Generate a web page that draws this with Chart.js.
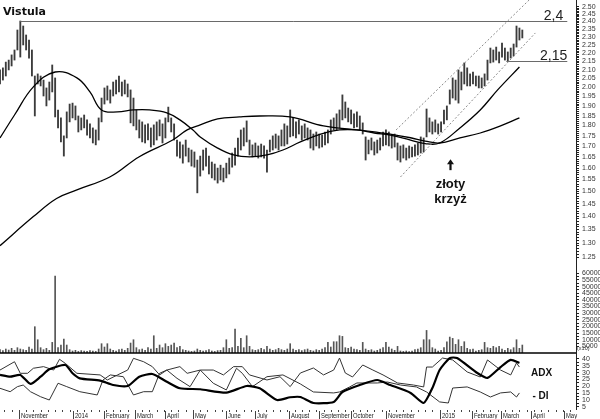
<!DOCTYPE html>
<html><head><meta charset="utf-8">
<script src="https://cdn.jsdelivr.net/npm/chart.js@4.4.0/dist/chart.umd.min.js"></script>
<style>html,body{margin:0;padding:0;background:#fff;}#wrap{width:600px;height:419px;}</style>
</head><body><div id="wrap"><canvas id="c" width="600" height="419"></canvas></div>
<script>
// ---- DATA (trading-day index: one bar every 2 sessions) ----
const priceHigh = [
2.099,2.111,2.145,2.157,2.188,2.218,2.344,2.403,2.370,2.312,
2.280,2.218,2.064,2.076,2.064,2.041,1.997,2.030,2.128,2.053,
1.879,1.838,1.749,1.869,1.910,1.915,1.900,1.848,1.838,1.853,
1.828,1.808,1.788,1.778,1.838,1.942,1.997,2.008,1.986,2.030,
2.041,2.064,2.030,2.041,2.019,1.986,1.942,1.879,1.828,1.818,
1.803,1.808,1.788,1.803,1.818,1.828,1.808,1.838,1.894,1.838,
1.808,1.729,1.720,1.706,1.729,1.691,1.682,1.673,1.636,1.654,
1.682,1.691,1.654,1.627,1.618,1.600,1.613,1.600,1.622,1.645,
1.668,1.691,1.739,1.778,1.788,1.823,1.729,1.706,1.715,1.701,
1.710,1.701,1.682,1.729,1.749,1.758,1.749,1.778,1.808,1.798,
1.879,1.838,1.818,1.828,1.798,1.808,1.788,1.778,1.758,1.768,
1.758,1.753,1.768,1.778,1.828,1.838,1.859,1.879,1.959,1.921,
1.889,1.879,1.859,1.869,1.848,1.813,1.744,1.729,1.739,1.720,
1.729,1.739,1.768,1.778,1.768,1.749,1.758,1.715,1.701,1.706,
1.691,1.701,1.696,1.706,1.715,1.744,1.739,1.884,1.838,1.818,
1.828,1.808,1.818,1.879,1.900,1.986,2.053,2.041,2.099,2.087,
2.140,2.111,2.076,2.087,2.064,2.064,2.053,2.076,2.157,2.230,
2.218,2.236,2.206,2.261,2.230,2.206,2.230,2.255,2.370,2.357,2.344];
const priceLow = [
2.019,2.041,2.064,2.099,2.122,2.157,2.218,2.175,2.249,2.218,
2.169,2.064,1.848,2.019,2.008,1.953,1.900,1.931,1.975,1.843,
1.788,1.720,1.654,1.739,1.818,1.838,1.828,1.768,1.778,1.788,
1.753,1.739,1.715,1.706,1.729,1.818,1.910,1.931,1.915,1.953,
1.964,1.975,1.953,1.964,1.948,1.813,1.798,1.778,1.739,1.720,
1.715,1.729,1.696,1.706,1.729,1.749,1.715,1.739,1.818,1.768,
1.729,1.654,1.645,1.622,1.654,1.627,1.609,1.604,1.494,1.565,
1.591,1.609,1.574,1.557,1.548,1.535,1.548,1.540,1.557,1.574,
1.604,1.613,1.654,1.682,1.701,1.720,1.659,1.650,1.654,1.645,
1.650,1.645,1.582,1.673,1.682,1.691,1.682,1.701,1.701,1.710,
1.744,1.749,1.739,1.758,1.729,1.739,1.729,1.691,1.682,1.701,
1.691,1.696,1.706,1.715,1.758,1.778,1.778,1.788,1.828,1.838,
1.818,1.808,1.788,1.793,1.778,1.758,1.636,1.664,1.682,1.659,
1.668,1.682,1.701,1.706,1.701,1.691,1.696,1.636,1.627,1.645,
1.636,1.645,1.650,1.654,1.659,1.668,1.673,1.744,1.768,1.758,
1.768,1.758,1.768,1.808,1.828,1.910,1.942,1.931,1.915,1.986,
2.019,2.008,2.008,2.019,2.008,1.997,1.997,2.008,2.041,2.140,
2.145,2.157,2.140,2.175,2.157,2.151,2.169,2.182,2.236,2.280,2.293];
const volume = [
2500,1800,3000,2200,3500,2000,4000,3000,2500,2000,
4500,3000,19800,10000,4000,2500,3500,2000,8000,58000,
4000,6000,10500,6000,2500,1500,2000,1200,1800,1500,
1300,1800,1500,1200,3000,7000,4500,7000,3000,2000,
1500,2500,3000,2000,3500,7500,10000,4000,2500,3000,
2000,4000,3000,13000,3500,6000,4000,7000,5000,6000,
7500,4000,5000,2500,2000,1500,1200,1500,3000,2000,
1500,1800,2500,1500,1200,1800,2000,4000,10000,3500,
4000,18000,5000,11000,4000,13000,5000,2500,2000,2500,
3500,2500,5000,3000,2000,2500,3500,2500,2000,3000,
7000,3000,2000,2500,1800,2500,3000,2000,1500,2500,
2000,3000,4000,8000,4500,8500,8500,13000,12500,4000,
3500,4500,3000,2500,2000,8000,3000,2000,2500,1500,
2000,3000,4000,8000,4500,3000,2000,5000,1500,1200,
1500,1000,1500,2500,3000,4000,10000,17000,10000,4000,
3000,1500,2000,4000,8500,12000,11000,6500,10000,5000,
8500,3500,2500,3000,1500,2000,2500,8000,4000,3500,
5000,4000,5000,3000,2000,3500,2500,4000,10000,3500,6000];
const maMidDays = [0,10,23,38,53,62,70,81,92,103,115,124,133,138,150,161,172,184,195,207,221,234,246,258,269,283,293,303,317,331,343,358];
const maMidVals = [1.739,1.853,2.003,2.087,2.053,1.975,1.879,1.869,1.879,1.879,1.864,1.828,1.778,1.744,1.691,1.659,1.650,1.659,1.682,1.720,1.758,1.778,1.778,1.763,1.753,1.729,1.712,1.715,1.788,1.879,1.986,2.116];
const maLongDays = [0,23,39,53,76,96,119,129,138,150,165,179,200,223,246,258,269,283,293,303,317,331,345,358];
const maLongVals = [1.291,1.399,1.471,1.506,1.562,1.651,1.729,1.778,1.803,1.833,1.843,1.848,1.843,1.798,1.778,1.768,1.758,1.740,1.724,1.715,1.739,1.763,1.798,1.838];
const adxDays = [0,7,14,21,28,34,45,50,55,69,78,88,96,105,115,124,138,156,170,179,191,200,207,216,230,236,248,260,269,283,292,298,303,310,315,329,336,345,352,358];
const adxVals = [28.3,27.0,28.3,21.7,27.0,32.4,35.6,29.5,25.8,24.1,20.9,20.2,27.0,29.0,23.3,18.5,17.8,15.3,20.2,18.5,9.9,11.9,12.1,7.7,8.5,15.8,20.9,24.6,20.9,15.1,7.7,18.7,31.9,40.7,40.7,29.7,26.1,34.1,39.3,37.1];
const plusDiDays = [0,10,14,19,23,30,37,41,45,53,69,74,81,88,92,99,105,110,115,124,129,138,147,154,161,167,172,184,193,200,207,216,223,230,234,238,243,250,257,264,274,285,292,294,298,305,312,322,331,336,345,352,356,358];
const plusDiVals = [31.9,38.0,29.5,29.5,33.2,34.4,31.9,39.8,36.8,29.5,28.3,24.6,28.3,31.9,40.5,38.0,34.4,28.3,31.9,34.4,29.5,31.9,31.9,28.3,34.4,34.4,28.3,24.6,27.0,19.7,29.7,33.4,28.3,31.9,40.7,29.7,26.8,35.6,31.9,28.3,22.4,20.9,19.5,34.1,34.1,40.7,39.3,30.5,26.8,39.3,31.9,28.3,37.1,34.1];
const minusDiDays = [0,7,12,16,21,28,34,40,46,55,67,71,76,85,92,99,105,110,115,122,131,138,147,156,163,167,174,184,195,207,216,230,234,241,246,260,267,276,287,294,303,309,312,322,331,338,345,352,356,358];
const minusDiVals = [18.5,16.0,19.7,20.9,16.0,12.3,9.9,22.2,19.7,16.0,13.6,24.6,28.3,27.0,13.6,16.0,16.0,29.5,31.9,25.8,19.7,31.9,22.2,17.3,33.2,29.5,19.7,27.0,28.3,21.7,15.8,15.1,15.8,19.5,22.4,22.4,23.1,20.9,19.5,15.8,8.5,7.7,18.7,19.5,15.8,12.1,15.1,15.8,12.1,15.1];
const monthDays = [13,50,72,93,114,133,156,176,199,220,242,266,303,325,345,366,389];
const monthLabels = ['November','2014','February','March','April','May','June','July','August','September','October','November','2015','February','March','April','May'];
const priceTicks = [1.25,1.30,1.35,1.40,1.45,1.50,1.55,1.60,1.65,1.70,1.75,1.80,1.85,1.90,1.95,2.00,2.05,2.10,2.15,2.20,2.25,2.30,2.35,2.40,2.45,2.50];
const volumeTicks = [5000,10000,15000,20000,25000,30000,35000,40000,45000,50000,55000,60000];
const adxTicks = [5,10,15,20,25,30,35,40];
const levels = [{value:2.4,from:14,to:391,label:'2,4'},{value:2.15,from:349,to:391,label:'2,15'}];
const channelUpper = [[273,1.778],[365,2.55]];
const channelLower = [[276,1.561],[369,2.325]];
const crossMark = {day:310, value:1.640, lines:['złoty','krzyż']};

// ---- helpers ----
const FONT_AX = {family:'"Liberation Sans", Arial, sans-serif', size:7};
function fixWidth(s){ s.width = 24; s.paddingTop = 0; s.paddingBottom = 0; }
function pts(days, vals){ return days.map((d,i)=>({x:d, y:vals[i]})); }
function axisTicks(list, minorSteps){
  return function(scale){
    const out = [];
    for (let i=0;i<list.length;i++){
      out.push({value:list[i]});
      if (minorSteps && i<list.length-1){
        const step=(list[i+1]-list[i])/minorSteps;
        for(let k=1;k<minorSteps;k++) out.push({value:list[i]+step*k, minor:true});
      }
    }
    scale.ticks = out.filter(t=>t.value>=scale.min && t.value<=scale.max);
  };
}
function yAxis(extra){
  return Object.assign({
    position:'right', stack:'panes', afterFit:fixWidth,
    grid:{drawOnChartArea:false, drawTicks:true, tickLength:3, color:'#222', tickColor:'#222'},
    border:{display:true, color:'#222', width:1},
    ticks:{font:FONT_AX, color:'#333', padding:3, autoSkip:false, maxRotation:0}
  }, extra);
}

const annotPlugin = {
  id:'annot',
  afterDatasetsDraw(chart){
    const {ctx, chartArea, scales:{x, yP, yV, yA}} = chart;
    ctx.save();
    // resistance levels
    ctx.strokeStyle='#6a6a6a'; ctx.lineWidth=1;
    ctx.font='14px "Liberation Sans", Arial, sans-serif'; ctx.fillStyle='#222'; ctx.textAlign='right';
    levels.forEach(l=>{
      const py = Math.round(yP.getPixelForValue(l.value))+0.5;
      ctx.beginPath(); ctx.moveTo(x.getPixelForValue(l.from),py); ctx.lineTo(x.getPixelForValue(l.to),py); ctx.stroke();
      ctx.fillText(l.label, x.getPixelForValue(l.to)-(l.label.length<4?4:0), py-2);
    });
    // trend channel
    ctx.setLineDash([2,2]); ctx.strokeStyle='#8a8a8a';
    [channelUpper, channelLower].forEach(c=>{
      ctx.beginPath();
      ctx.moveTo(x.getPixelForValue(c[0][0]), yP.getPixelForValue(c[0][1]));
      ctx.lineTo(x.getPixelForValue(c[1][0]), yP.getPixelForValue(c[1][1]));
      ctx.stroke();
    });
    ctx.setLineDash([]);
    // golden cross arrow + label
    const ax = Math.round(x.getPixelForValue(crossMark.day))+0.5, ay = yP.getPixelForValue(crossMark.value);
    ctx.fillStyle='#111'; ctx.strokeStyle='#111';
    ctx.beginPath(); ctx.moveTo(ax, ay); ctx.lineTo(ax-3.5, ay+5); ctx.lineTo(ax+3.5, ay+5); ctx.closePath(); ctx.fill();
    ctx.lineWidth=2.2; ctx.beginPath(); ctx.moveTo(ax, ay+4); ctx.lineTo(ax, ay+11); ctx.stroke();
    ctx.font='bold 13px "Liberation Sans", Arial, sans-serif'; ctx.textAlign='center';
    ctx.fillText(crossMark.lines[0], ax, ay+29);
    ctx.fillText(crossMark.lines[1], ax, ay+44);
    // volume baseline
    const vb = yV.getPixelForValue(0);
    ctx.strokeStyle='#000'; ctx.lineWidth=1.5;
    ctx.beginPath(); ctx.moveTo(chartArea.left, vb); ctx.lineTo(chartArea.right, vb); ctx.stroke();
    ctx.font='5.5px "Liberation Sans", Arial, sans-serif'; ctx.textAlign='left'; ctx.fillStyle='#333';
    ctx.fillText('(x10)', chartArea.right+1, vb-3);
    // indicator labels
    ctx.font='bold 10px "Liberation Sans", Arial, sans-serif'; ctx.fillStyle='#111'; ctx.textAlign='left'; ctx.textBaseline='middle';
    ctx.fillText('ADX', x.getPixelForValue(366), yA.getPixelForValue(29.4));
    ctx.fillText('- DI', x.getPixelForValue(367), yA.getPixelForValue(12.5));
    ctx.save(); ctx.beginPath(); ctx.rect(chartArea.left, yA.top+1, chartArea.width, yA.bottom-yA.top); ctx.clip();
    ctx.fillText('+DI', x.getPixelForValue(368), yA.top-2);
    ctx.restore();
    // title
    ctx.font='bold 11px "DejaVu Sans", Verdana, sans-serif'; ctx.textBaseline='alphabetic'; ctx.fillStyle='#111';
    ctx.fillText('Vistula', 3, 15);
    ctx.restore();
  },
  afterDraw(chart){
    const {ctx, chartArea, scales:{x}} = chart;
    const y0 = chartArea.bottom;
    ctx.save();
    ctx.strokeStyle='#444'; ctx.lineWidth=1;
    for (let d=3; d<397; d+=5){
      const px=Math.round(x.getPixelForValue(d))+0.5;
      ctx.beginPath(); ctx.moveTo(px,y0+1); ctx.lineTo(px,y0+3); ctx.stroke();
    }
    ctx.font='7.5px "Liberation Sans", Arial, sans-serif';
    ctx.fillStyle='#222'; ctx.textAlign='left'; ctx.textBaseline='alphabetic';
    monthDays.forEach((d,i)=>{
      const px=Math.round(x.getPixelForValue(d))+0.5;
      ctx.beginPath(); ctx.moveTo(px,y0+2); ctx.lineTo(px,y0+10); ctx.stroke();
      ctx.save(); ctx.translate(px+1.5, y0+9); ctx.scale(0.78,1);
      ctx.fillText(monthLabels[i], 0, 0);
      ctx.restore();
    });
    ctx.restore();
  }
};

new Chart(document.getElementById('c'), {
  data:{datasets:[
    {type:'bar', label:'Vistula', data:priceHigh.map((h,i)=>({x:i*2, y:[priceLow[i], h]})), yAxisID:'yP',
     backgroundColor:'#3c3c3c', barThickness:1.2, grouped:false, order:2},
    {type:'line', label:'MA short', data:pts(maMidDays, maMidVals), yAxisID:'yP', borderColor:'#000', borderWidth:1.3, pointRadius:0, tension:0.4, order:0},
    {type:'line', label:'MA long', data:pts(maLongDays, maLongVals), yAxisID:'yP', borderColor:'#000', borderWidth:1.3, pointRadius:0, tension:0.4, order:0},
    {type:'bar', label:'Volume', data:volume.map((v,i)=>({x:i*2, y:v})), yAxisID:'yV',
     backgroundColor:'#555', barThickness:1, grouped:false, order:2},
    {type:'line', label:'ADX', data:pts(adxDays, adxVals), yAxisID:'yA', borderColor:'#000', borderWidth:2.2, pointRadius:0, tension:0.2, order:0},
    {type:'line', label:'+DI', data:pts(plusDiDays, plusDiVals), yAxisID:'yA', borderColor:'#333', borderWidth:1, pointRadius:0, tension:0, order:1},
    {type:'line', label:'-DI', data:pts(minusDiDays, minusDiVals), yAxisID:'yA', borderColor:'#333', borderWidth:1, pointRadius:0, tension:0, order:1}
  ]},
  options:{
    responsive:false, animation:false,
    layout:{autoPadding:false, padding:{left:0,right:0,top:0,bottom:10}},
    plugins:{legend:{display:false}, tooltip:{enabled:false}, title:{display:false}},
    scales:{
      x:{type:'linear', min:0, max:397, display:false, offset:false},
      yP:yAxis({type:'logarithmic', stackWeight:264, min:1.2272, max:2.5468,
        afterBuildTicks:axisTicks(priceTicks,5),
        ticks:{font:FONT_AX, color:'#333', padding:3, autoSkip:false, callback:(v)=>priceTicks.some(t=>Math.abs(t-v)<1e-6)?v.toFixed(2):''}}),
      yV:yAxis({type:'linear', stackWeight:89, min:0, max:67000,
        afterBuildTicks:axisTicks(volumeTicks,2),
        ticks:{font:FONT_AX, color:'#333', padding:3, autoSkip:false, callback:(v)=>volumeTicks.includes(v)?String(v):''}}),
      yA:yAxis({type:'linear', stackWeight:56, min:3.3, max:44.4,
        afterBuildTicks:axisTicks(adxTicks,2),
        ticks:{font:FONT_AX, color:'#333', padding:3, autoSkip:false, callback:(v)=>adxTicks.includes(v)?String(v):''}})
    }
  },
  plugins:[annotPlugin]
});
</script></body></html>
